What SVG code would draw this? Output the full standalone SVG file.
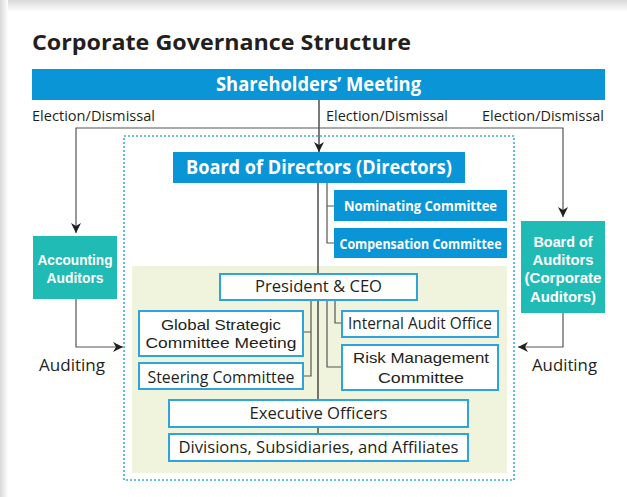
<svg xmlns="http://www.w3.org/2000/svg" width="627" height="497" viewBox="0 0 627 497">
<defs>
<style>
.t{font-family:"Open Sans","Noto Sans","Liberation Sans",sans-serif;fill:#231f20}
.w{font-family:"Open Sans","Noto Sans","Liberation Sans",sans-serif;fill:#fff;font-weight:bold}
.m{font-family:"Liberation Sans",Arial,sans-serif}
.bx{fill:#fff;stroke:#2ea3dc;stroke-width:2}
.ln{fill:none;stroke:#231f20;stroke-width:1.2}
.gl{fill:none;stroke:#555;stroke-width:1.2}
</style>
<marker id="ah" viewBox="0 0 10 10" refX="10" refY="5" markerWidth="10" markerHeight="10" markerUnits="userSpaceOnUse" orient="auto">
<path d="M0,0 L10,5 L0,10 L3,5 z" fill="#231f20"/>
</marker>
<linearGradient id="gt" x1="0" y1="0" x2="0" y2="1"><stop offset="0" stop-color="#d8d8d8"/><stop offset="1" stop-color="#ffffff"/></linearGradient>
<linearGradient id="gl" x1="0" y1="0" x2="1" y2="0"><stop offset="0" stop-color="#d8d8d8"/><stop offset="1" stop-color="#ffffff"/></linearGradient>
</defs>
<rect x="0" y="0" width="627" height="497" fill="#fff"/>
<rect x="0" y="0" width="627" height="12" fill="url(#gt)"/>
<rect x="0" y="0" width="8" height="497" fill="url(#gl)"/>

<text class="t" x="32" y="50" font-size="22" font-weight="bold" textLength="379" lengthAdjust="spacingAndGlyphs">Corporate Governance Structure</text>

<g id="shareholders">
<rect x="32" y="69" width="573" height="31" fill="#0a96d6"/>
<text class="w" x="318.5" y="91" font-size="20" text-anchor="middle" textLength="205" lengthAdjust="spacingAndGlyphs">Shareholders’ Meeting</text>
</g>

<g id="labels">
<text class="t" x="32" y="121" font-size="15" textLength="123" lengthAdjust="spacingAndGlyphs">Election/Dismissal</text>
<text class="t" x="326" y="121" font-size="15" textLength="122" lengthAdjust="spacingAndGlyphs">Election/Dismissal</text>
<text class="t" x="482" y="121" font-size="15" textLength="122" lengthAdjust="spacingAndGlyphs">Election/Dismissal</text>
<text class="t" x="39" y="371" font-size="17" textLength="66" lengthAdjust="spacingAndGlyphs">Auditing</text>
<text class="t" x="532" y="371" font-size="17" textLength="65" lengthAdjust="spacingAndGlyphs">Auditing</text>
</g>

<g id="company-frame">
<rect x="124" y="136" width="390" height="344" fill="none" stroke="#3aabe0" stroke-width="1.6" stroke-dasharray="2 2"/>
<rect x="132" y="266" width="375" height="207" fill="#f0f4dd"/>
</g>

<g id="connectors">
<path class="ln" d="M319,100 V152" marker-end="url(#ah)"/>
<path class="gl" d="M319,128 H76 V233" marker-end="url(#ah)"/>
<path class="gl" d="M319,128 H563 V217" marker-end="url(#ah)"/>
<path class="gl" d="M76,299 V347 H123" marker-end="url(#ah)"/>
<path class="gl" d="M563,313 V347 H518" marker-end="url(#ah)"/>
<path class="ln" d="M318,183 V274"/>
<path class="gl" d="M327,183 V243 H334 M327,206 H334"/>
<path class="ln" d="M318,300 V400 M318,427 V434"/>
<path class="gl" d="M311,300 V376 H303 M311,332 H303"/>
<path class="gl" d="M327,300 V367 H342"/>
<path class="gl" d="M335,300 V323 H342"/>
</g>

<g id="board-of-directors">
<rect x="173" y="152" width="292" height="31" fill="#0a96d6"/>
<text class="w" x="319" y="174" font-size="19" text-anchor="middle" textLength="266" lengthAdjust="spacingAndGlyphs">Board of Directors (Directors)</text>
</g>
<g id="nominating-committee">
<rect x="334" y="190" width="173" height="31" fill="#0a96d6"/>
<text class="w" x="420.5" y="211" font-size="15" text-anchor="middle" textLength="153" lengthAdjust="spacingAndGlyphs">Nominating Committee</text>
</g>
<g id="compensation-committee">
<rect x="334" y="228" width="173" height="30" fill="#0a96d6"/>
<text class="w" x="420.5" y="249" font-size="15" text-anchor="middle" textLength="162" lengthAdjust="spacingAndGlyphs">Compensation Committee</text>
</g>
<g id="accounting-auditors">
<rect x="33" y="236" width="84" height="63" fill="#21bbb5"/>
<text class="w m" font-size="15.5" text-anchor="middle"><tspan x="75" y="265" textLength="75" lengthAdjust="spacingAndGlyphs">Accounting</tspan><tspan x="75" y="283" textLength="57" lengthAdjust="spacingAndGlyphs">Auditors</tspan></text>
</g>
<g id="board-of-auditors">
<rect x="521" y="221" width="84" height="92" fill="#21bbb5"/>
<text class="w m" font-size="15.5" text-anchor="middle"><tspan x="563" y="247" textLength="59" lengthAdjust="spacingAndGlyphs">Board of</tspan><tspan x="563" y="265" textLength="61" lengthAdjust="spacingAndGlyphs">Auditors</tspan><tspan x="563" y="283" textLength="77" lengthAdjust="spacingAndGlyphs">(Corporate</tspan><tspan x="563" y="302" textLength="66" lengthAdjust="spacingAndGlyphs">Auditors)</tspan></text>
</g>
<g id="president">
<rect class="bx" x="220" y="274" width="197" height="26"/>
<text class="t" x="318.5" y="292" font-size="16" text-anchor="middle" textLength="127" lengthAdjust="spacingAndGlyphs">President &amp; CEO</text>
</g>
<g id="global-strategic">
<rect class="bx" x="139" y="311" width="164" height="45"/>
<text class="t m" font-size="15.5" text-anchor="middle"><tspan x="221" y="330" textLength="120" lengthAdjust="spacingAndGlyphs">Global Strategic</tspan><tspan x="221" y="348" textLength="151" lengthAdjust="spacingAndGlyphs">Committee Meeting</tspan></text>
</g>
<g id="steering-committee">
<rect class="bx" x="139" y="363" width="164" height="26"/>
<text class="t" x="221" y="383" font-size="16" text-anchor="middle" textLength="147" lengthAdjust="spacingAndGlyphs">Steering Committee</text>
</g>
<g id="internal-audit">
<rect class="bx" x="342" y="311" width="156" height="26"/>
<text class="t" x="420" y="329" font-size="16" text-anchor="middle" textLength="144" lengthAdjust="spacingAndGlyphs">Internal Audit Office</text>
</g>
<g id="risk-management">
<rect class="bx" x="342" y="345" width="156" height="45"/>
<text class="t m" font-size="15.5" text-anchor="middle"><tspan x="421" y="363" textLength="136" lengthAdjust="spacingAndGlyphs">Risk Management</tspan><tspan x="421" y="383" textLength="86" lengthAdjust="spacingAndGlyphs">Committee</tspan></text>
</g>
<g id="executive-officers">
<rect class="bx" x="169" y="400" width="299" height="27"/>
<text class="t" x="318.5" y="419" font-size="16" text-anchor="middle" textLength="138" lengthAdjust="spacingAndGlyphs">Executive Officers</text>
</g>
<g id="divisions">
<rect class="bx" x="169" y="434" width="299" height="27"/>
<text class="t" x="318.5" y="453" font-size="16" text-anchor="middle" textLength="280" lengthAdjust="spacingAndGlyphs">Divisions, Subsidiaries, and Affiliates</text>
</g>
</svg>
